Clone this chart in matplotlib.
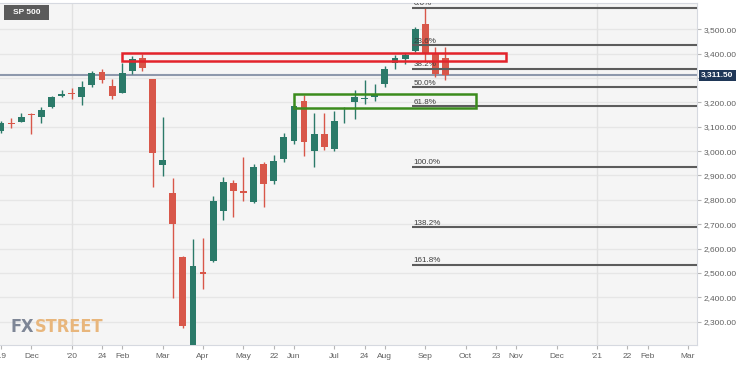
import numpy as np
import pandas as pd
import matplotlib
matplotlib.use('Agg')
import matplotlib.pyplot as plt
import matplotlib.transforms as mtransforms
from matplotlib.patches import Rectangle

plt.rcParams['font.family'] = ['Liberation Sans', 'DejaVu Sans']

# weekly bars, first week starts 2019-11-11
start = pd.Timestamp('2019-11-11')
opens = [3084, 3116, 3121, 3152, 3141, 3180, 3225, 3238, 3221, 3273, 3325, 3267,
         3240, 3329, 3382, 3295, 2943, 2829, 2564, 2190, 2503, 2549, 2754, 2868,
         2838, 2793, 2946, 2879, 2968, 3042, 3206, 3000, 3069, 3009, 3172, 3203,
         3212, 3224, 3274, 3360, 3377, 3412, 3522, 3404, 3381]
highs = [3125, 3135, 3155, 3156, 3182, 3226, 3251, 3258, 3288, 3329, 3338, 3297,
         3360, 3390, 3399, 3298, 3138, 2889, 2570, 2639, 2645, 2817, 2893, 2882,
         2975, 2946, 2957, 2984, 3073, 3193, 3230, 3158, 3155, 3166, 3182, 3251,
         3292, 3275, 3349, 3394, 3404, 3511, 3588, 3429, 3426]
lows = [3075, 3094, 3119, 3070, 3117, 3178, 3222, 3213, 3189, 3262, 3281, 3215,
        3238, 3316, 3328, 2854, 2899, 2397, 2274, 2175, 2433, 2545, 2717, 2730,
        2797, 2786, 2772, 2865, 2957, 3029, 2980, 2936, 3005, 3002, 3114, 3131,
        3195, 3204, 3264, 3336, 3357, 3408, 3367, 3305, 3292]
closes = [3117, 3112, 3141, 3147, 3169, 3221, 3234, 3235, 3262, 3322, 3292, 3228,
          3322, 3379, 3340, 2991, 2964, 2700, 2280, 2530, 2496, 2795, 2875, 2836,
          2830, 2936, 2864, 2960, 3059, 3185, 3036, 3069, 3018, 3125, 3178, 3221,
          3216, 3234, 3337, 3381, 3395, 3500, 3401, 3317, 3311.5]
last_price = 3311.50

tick_dates = ['2019-11-11', '2019-12-02', '2019-12-30', '2020-01-20', '2020-02-03',
              '2020-03-02', '2020-03-30', '2020-04-27', '2020-05-18', '2020-06-01',
              '2020-06-29', '2020-07-20', '2020-08-03', '2020-08-31', '2020-09-28',
              '2020-10-19', '2020-11-02', '2020-11-30', '2020-12-28', '2021-01-18',
              '2021-02-01', '2021-03-01']
tick_labels = ["'19", 'Dec', "'20", '24', 'Feb', 'Mar', 'Apr', 'May', '22', 'Jun',
               'Jul', '24', 'Aug', 'Sep', 'Oct', '23', 'Nov', 'Dec', "'21", '22',
               'Feb', 'Mar']
year_dates = ['2019-12-30', '2020-12-28']
price_ticks = list(range(2300, 3600, 100))

# fibonacci retracement
fib_high = 3588
fib_low = 2936
fib_ratios = [0.0, 0.236, 0.382, 0.5, 0.618, 1.0, 1.382, 1.618]
fib_start = '2020-08-24'

# highlighted zones: (from, to, low, high)
red_zone = ('2020-02-03', '2020-10-26', 3371, 3401)
green_zone = ('2020-06-01', '2020-10-05', 3176, 3233)


def widx(d):
    return (pd.Timestamp(d) - start).days / 7


up_col = '#2b7a69'
dn_col = '#d8574a'

fig = plt.figure(figsize=(7.37, 3.78), dpi=100)
ax = fig.add_axes([0, 33 / 378, 697 / 737, 342 / 378])
ax.set_facecolor('#f5f5f5')
ax.set_xlim(-0.1, 68.9)
ax.set_ylim(2204, 3608)

for p in price_ticks:
    ax.axhline(p, color='#e6e6e6', lw=1, zorder=0)
for d in year_dates:
    ax.axvline(widx(d), color='#e2e2e2', lw=1, zorder=0)

ax.axhline(last_price, color='#8d98ac', lw=1.5, zorder=1)

# candles
for i in range(len(opens)):
    o, h, l, c = opens[i], highs[i], lows[i], closes[i]
    col = up_col if c >= o else dn_col
    ax.vlines(i, l, h, color=col, lw=1, zorder=2)
    ax.bar(i, max(abs(c - o), 4), bottom=min(o, c), width=0.68, color=col, zorder=3)

# fib lines
x0 = widx(fib_start) - 0.3
for r in fib_ratios:
    lvl = fib_high - (fib_high - fib_low) * r
    ax.hlines(lvl, x0, 68.9, color='#5c5c5c', lw=1.5, zorder=4)
    ax.text(x0 + 0.15, lvl + 2, f'{r * 100:.1f}%', fontsize=5.8, color='#3c3c3c',
            ha='left', va='bottom', zorder=5, clip_on=True)

# zones
for zone, col in [(red_zone, '#e3232b'), (green_zone, '#3b8b1d')]:
    x_a, x_b = widx(zone[0]), widx(zone[1])
    ax.add_patch(Rectangle((x_a, zone[2]), x_b - x_a, zone[3] - zone[2],
                           fill=False, edgecolor=col, lw=1.8, zorder=6))

# axes styling
ax.yaxis.tick_right()
ax.set_yticks(price_ticks)
ax.set_yticklabels(['' if abs(p - last_price) < 40 else f'{p:,.2f}' for p in price_ticks])
ax.set_xticks([widx(d) for d in tick_dates])
ax.set_xticklabels(tick_labels)
ax.tick_params(axis='y', length=3, color='#b5b5b5', labelsize=6, labelcolor='#606060', pad=2)
ax.tick_params(axis='x', length=3, color='#b5b5b5', labelsize=6, labelcolor='#606060', pad=3)
ax.spines['left'].set_visible(False)
for s in ['top', 'right', 'bottom']:
    ax.spines[s].set_color('#d6d9e0')

# last price label
trans = mtransforms.blended_transform_factory(ax.transAxes, ax.transData)
ax.text(1.006, last_price, f'{last_price:,.2f}', transform=trans, fontsize=6,
        fontweight='bold', color='white', ha='left', va='center', clip_on=False,
        bbox=dict(boxstyle='square,pad=0.25', fc='#1f3757', ec='none'))

# symbol box
fig.patches.append(Rectangle((4 / 737, 1 - 20 / 378), 45 / 737, 15 / 378,
                             transform=fig.transFigure, fc='#5b5b5b', ec='none'))
fig.text(26.5 / 737, 1 - 12.8 / 378, 'SP 500', fontsize=6, color='white',
         ha='center', va='center', fontweight='semibold')

# logo
logo_font = ['DejaVu Sans']
fx = fig.text(11 / 737, 46 / 378, 'FX', fontsize=13, fontweight='bold',
              fontstretch='condensed', color='#7e8696', family=logo_font,
              ha='left', va='baseline')
ax.annotate('STREET', xy=(1, 0), xycoords=fx, xytext=(0, 0), textcoords='offset points',
            fontsize=13, fontweight='bold', fontstretch='condensed', color='#e8b67c',
            family=logo_font, ha='left', va='bottom', annotation_clip=False)

fig.savefig('out.png', dpi=100, facecolor='white')
